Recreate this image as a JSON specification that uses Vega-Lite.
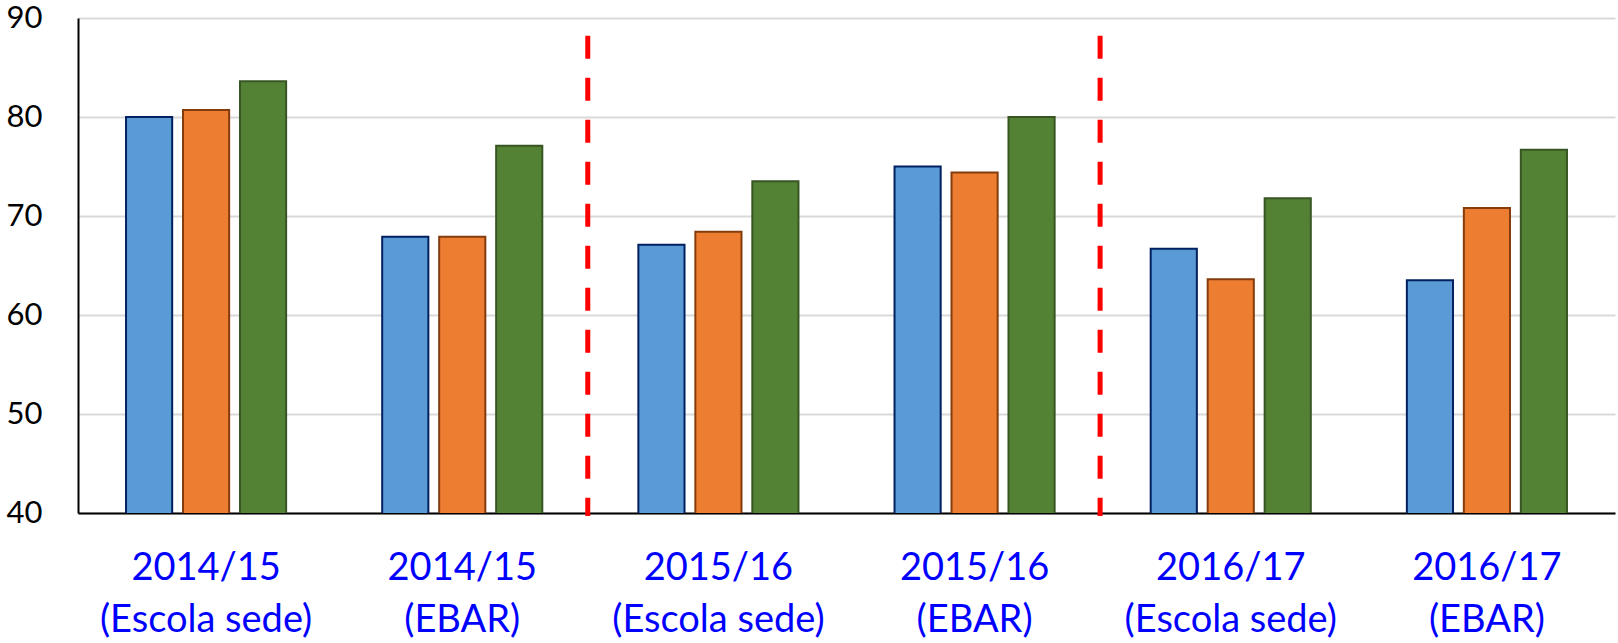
{
  "$schema": "https://vega.github.io/schema/vega-lite/v6.json",
  "autosize": {"type": "none"},
  "width": 1537,
  "height": 495,
  "padding": {"left": 78, "top": 18, "right": 3, "bottom": 130},
  "config": {"view": {"stroke": null}, "font": "Lato"},
  "datasets": {
    "bars": [
      {"grupo": "2014/15|(Escola sede)", "serie": "S1", "valor": 80.0},
      {"grupo": "2014/15|(Escola sede)", "serie": "S2", "valor": 80.7},
      {"grupo": "2014/15|(Escola sede)", "serie": "S3", "valor": 83.6},
      {"grupo": "2014/15|(EBAR)", "serie": "S1", "valor": 67.9},
      {"grupo": "2014/15|(EBAR)", "serie": "S2", "valor": 67.9},
      {"grupo": "2014/15|(EBAR)", "serie": "S3", "valor": 77.1},
      {"grupo": "2015/16|(Escola sede)", "serie": "S1", "valor": 67.1},
      {"grupo": "2015/16|(Escola sede)", "serie": "S2", "valor": 68.4},
      {"grupo": "2015/16|(Escola sede)", "serie": "S3", "valor": 73.5},
      {"grupo": "2015/16|(EBAR)", "serie": "S1", "valor": 75.0},
      {"grupo": "2015/16|(EBAR)", "serie": "S2", "valor": 74.4},
      {"grupo": "2015/16|(EBAR)", "serie": "S3", "valor": 80.0},
      {"grupo": "2016/17|(Escola sede)", "serie": "S1", "valor": 66.7},
      {"grupo": "2016/17|(Escola sede)", "serie": "S2", "valor": 63.6},
      {"grupo": "2016/17|(Escola sede)", "serie": "S3", "valor": 71.8},
      {"grupo": "2016/17|(EBAR)", "serie": "S1", "valor": 63.5},
      {"grupo": "2016/17|(EBAR)", "serie": "S2", "valor": 70.8},
      {"grupo": "2016/17|(EBAR)", "serie": "S3", "valor": 76.7}
    ],
    "divisores": [
      {"pos": 1.99, "topo": 88.2, "base": 39.7},
      {"pos": 3.99, "topo": 88.2, "base": 39.7}
    ]
  },
  "layer": [
    {
      "data": {"name": "bars"},
      "mark": {"type": "bar", "strokeWidth": 2, "clip": true},
      "encoding": {
        "x": {
          "field": "grupo", "type": "nominal", "sort": null,
          "scale": {"paddingInner": 0.375, "paddingOuter": 0.1875},
          "axis": {
            "title": null, "labelAngle": 0, "labelExpr": "split(datum.label, '|')",
            "labelColor": "#0000FF", "labelFontSize": 38, "labelLineHeight": 52,
            "labelPadding": 36, "labelFont": "Lato", "labelLimit": 0,
            "ticks": false, "grid": false, "domain": true, "domainColor": "#000000", "domainWidth": 2
          }
        },
        "xOffset": {"field": "serie", "type": "nominal", "scale": {"paddingInner": 0.19, "paddingOuter": 0}},
        "y": {
          "field": "valor", "type": "quantitative",
          "scale": {"domain": [40, 90], "nice": false, "zero": false},
          "axis": {
            "title": null, "values": [40, 50, 60, 70, 80, 90],
            "labelFontSize": 31, "labelColor": "#000000", "labelPadding": 36, "labelFont": "Lato",
            "ticks": false, "grid": true, "gridColor": "#D9D9D9", "gridWidth": 2,
            "domain": true, "domainColor": "#000000", "domainWidth": 2
          }
        },
        "fill": {
          "field": "serie", "type": "nominal", "legend": null,
          "scale": {"domain": ["S1", "S2", "S3"], "range": ["#5B9BD5", "#ED7D31", "#548235"]}
        },
        "stroke": {
          "field": "serie", "type": "nominal", "legend": null,
          "scale": {"domain": ["S1", "S2", "S3"], "range": ["#002060", "#843C0C", "#375623"]}
        }
      }
    },
    {
      "data": {"name": "divisores"},
      "mark": {"type": "rule", "color": "#FF0000", "strokeWidth": 5, "strokeDash": [23, 19]},
      "encoding": {
        "x": {"field": "pos", "type": "quantitative", "scale": {"domain": [0, 6], "nice": false, "zero": false}, "axis": null},
        "y": {"field": "topo", "type": "quantitative"},
        "y2": {"field": "base"}
      }
    }
  ],
  "resolve": {"scale": {"x": "independent"}}
}
